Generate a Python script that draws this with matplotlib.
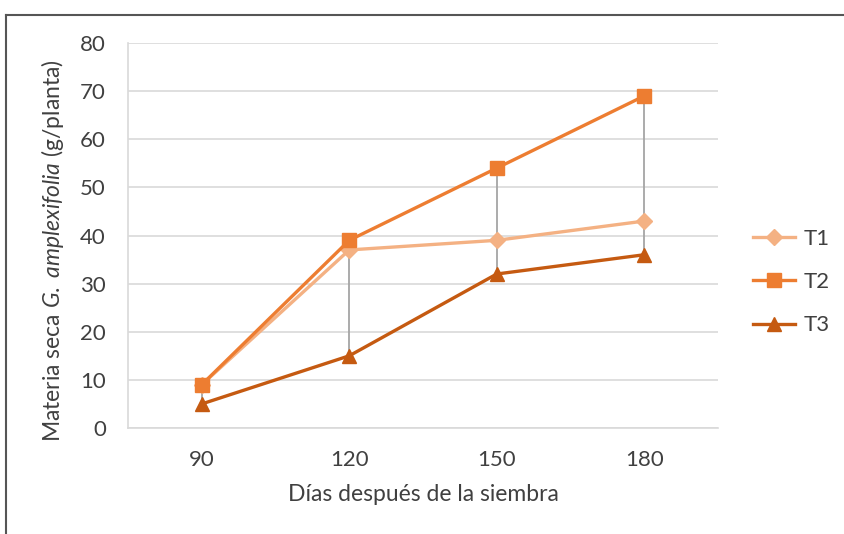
import numpy as np
import matplotlib.pyplot as plt
from matplotlib.lines import Line2D

plt.rcParams['font.family'] = ['Lato', 'DejaVu Sans']
plt.rcParams['mathtext.fontset'] = 'custom'
plt.rcParams['mathtext.rm'] = 'Lato'
plt.rcParams['mathtext.it'] = 'Lato:italic'

days = ['90', '120', '150', '180']
t1 = [9, 37, 39, 43]
t2 = [9, 39, 54, 69]
t3 = [5, 15, 32, 36]

series = [('T1', t1, '#F4B183', 'D', 8.5),
          ('T2', t2, '#ED7D31', 's', 10),
          ('T3', t3, '#C55A11', '^', 10.5)]

fig = plt.figure(figsize=(8.44, 5.34), dpi=100)
ax = fig.add_axes([128 / 844, 1 - 428 / 534, 590 / 844, 385 / 534])

x = np.arange(len(days))
allv = np.array([t1, t2, t3])
# high-low lines
ax.vlines(x, allv.min(axis=0), allv.max(axis=0), color='#A5A5A5', lw=1.3, zorder=2)

for name, vals, col, mk, ms in series:
    ax.plot(x, vals, color=col, lw=2.4, marker=mk, ms=ms, label=name, zorder=3)

ax.set_xlim(-0.5, len(days) - 0.5)
ax.set_ylim(0, 80)
ax.set_yticks(range(0, 81, 10))
ax.set_xticks(x)
ax.set_xticklabels(days)
ax.grid(axis='y', color='#D9D9D9', lw=1.2)
ax.set_axisbelow(True)
for s in ['top', 'right']:
    ax.spines[s].set_visible(False)
for s in ['left', 'bottom']:
    ax.spines[s].set_color('#D9D9D9')
    ax.spines[s].set_linewidth(1.2)
ax.tick_params(axis='both', length=0, labelsize=16, labelcolor='#404040')
ax.tick_params(axis='y', pad=16)
ax.tick_params(axis='x', pad=16)

ax.set_xlabel('Días después de la siembra', fontsize=16.5, color='#404040', va='top')
ax.xaxis.set_label_coords(0.5, -0.145)
ax.set_ylabel(r'Materia seca $G.\ amplexifolia$ (g/planta)', fontsize=16.5, color='#404040')
ax.yaxis.set_label_coords(-0.105, 0.46)

leg = fig.legend(loc='center left', bbox_to_anchor=(753 / 844, 1 - 282 / 534),
                 frameon=False, fontsize=16, handlelength=1.9, labelspacing=1.05,
                 handletextpad=0.4, borderpad=0, borderaxespad=0)
for t in leg.get_texts():
    t.set_color('#404040')

# outer chart border (extends beyond image on right/bottom)
fig.add_artist(Line2D([6 / 844, 6 / 844], [0, 1 - 15 / 534], color='#555555', lw=1.5))
fig.add_artist(Line2D([6 / 844, 1], [1 - 15 / 534, 1 - 15 / 534], color='#555555', lw=1.5))

fig.savefig('out.png', dpi=100)
